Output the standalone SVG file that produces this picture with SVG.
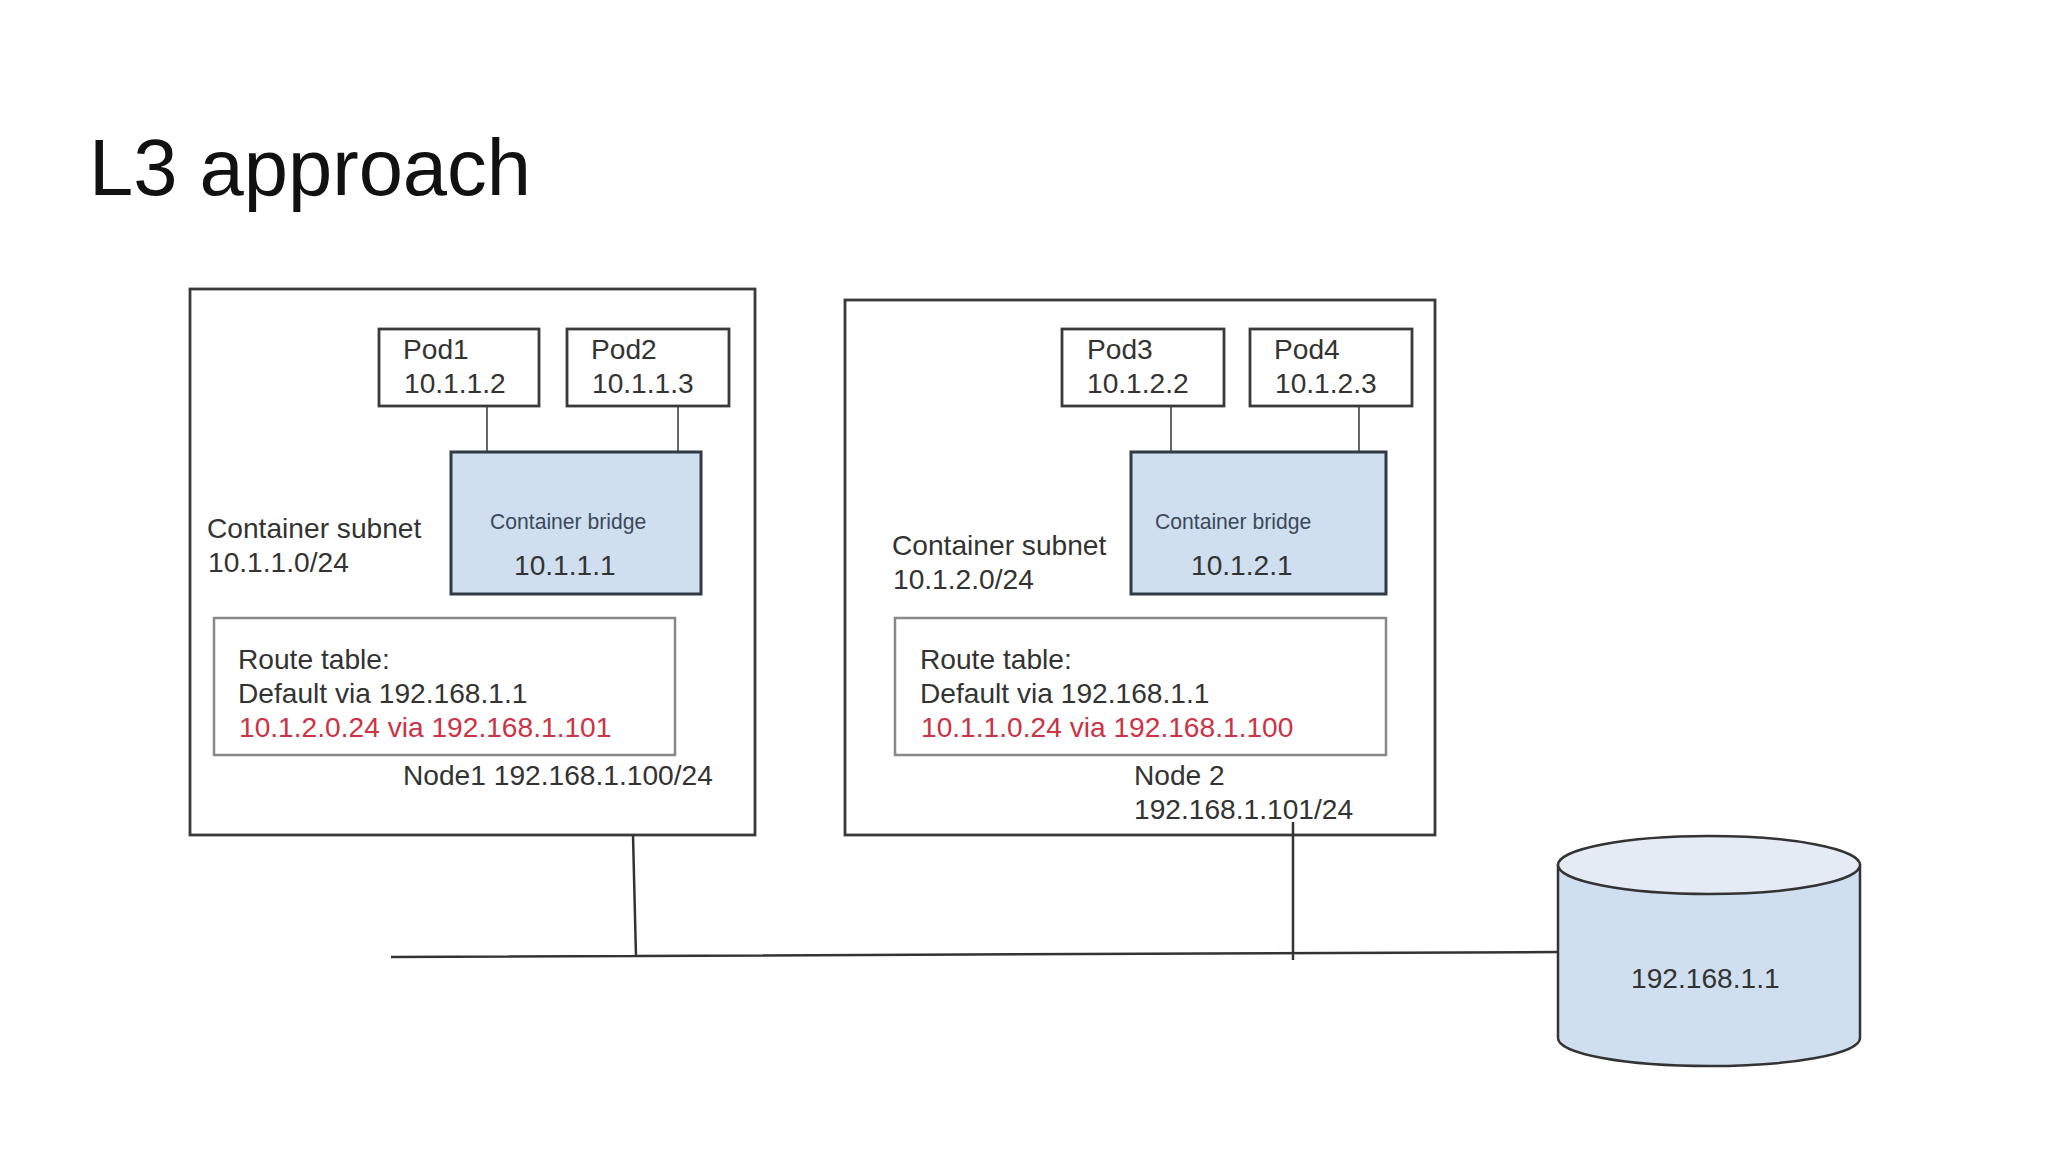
<svg xmlns="http://www.w3.org/2000/svg" width="2048" height="1152" viewBox="0 0 2048 1152">
<style>
text{font-family:"Liberation Sans",Arial,sans-serif;font-size:28.15px;fill:#333}
.title{font-size:79.5px;fill:#111}
.small{font-size:21.15px;fill:#3b4a5a}
.red{fill:#cc3344}
.box{fill:#fff;stroke:#3a3a3a;stroke-width:2.8}
.route{fill:#fff;stroke:#888;stroke-width:2.5}
.bridge{fill:#cfdfef;stroke:#2f3a44;stroke-width:3}
.thin{stroke:#666;stroke-width:2;fill:none}
.wire{stroke:#333;stroke-width:2.5;fill:none}
.cyl{fill:#cfdfef;stroke:#333;stroke-width:2.5}
.cyltop{fill:#e4ebf4;stroke:#333;stroke-width:2.5}
</style>
<rect width="2048" height="1152" fill="#fff"/>
<text id="title" class="title" x="89" y="195">L3 approach</text>
<g id="node1">
<rect class="box" x="190" y="289" width="565" height="546"/>
<text x="207" y="538">Container subnet</text>
<text x="208" y="572">10.1.1.0/24</text>
<text x="403" y="785">Node1 192.168.1.100/24</text>
</g>
<g id="node2">
<rect class="box" x="845" y="300" width="590" height="535"/>
<text x="892" y="555">Container subnet</text>
<text x="893" y="589">10.1.2.0/24</text>
<text x="1134" y="785">Node 2</text>
<text x="1134" y="819">192.168.1.101/24</text>
</g>
<g id="connectors">
<path class="thin" d="M487 406V452M678 406V452M1171 406V452M1359 406V452"/>
<path class="wire" d="M391 957L1558 952M633 835L636 957M1293 822V960"/>
</g>
<g id="pod1"><rect class="box" x="379" y="329" width="160" height="77"/><text x="403" y="359">Pod1</text><text x="404" y="393">10.1.1.2</text></g>
<g id="pod2"><rect class="box" x="567" y="329" width="162" height="77"/><text x="591" y="359">Pod2</text><text x="592" y="393">10.1.1.3</text></g>
<g id="pod3"><rect class="box" x="1062" y="329" width="162" height="77"/><text x="1087" y="359">Pod3</text><text x="1087" y="393">10.1.2.2</text></g>
<g id="pod4"><rect class="box" x="1250" y="329" width="162" height="77"/><text x="1274" y="359">Pod4</text><text x="1275" y="393">10.1.2.3</text></g>
<g id="bridge1"><rect class="bridge" x="451" y="452" width="250" height="142"/><text class="small" x="490" y="529">Container bridge</text><text x="514" y="575">10.1.1.1</text></g>
<g id="bridge2"><rect class="bridge" x="1131" y="452" width="255" height="142"/><text class="small" x="1155" y="529">Container bridge</text><text x="1191" y="575">10.1.2.1</text></g>
<g id="route1"><rect class="route" x="214" y="618" width="461" height="137"/><text x="238" y="669">Route table:</text><text x="238" y="703">Default via 192.168.1.1</text><text class="red" x="239" y="737">10.1.2.0.24 via 192.168.1.101</text></g>
<g id="route2"><rect class="route" x="895" y="618" width="491" height="137"/><text x="920" y="669">Route table:</text><text x="920" y="703">Default via 192.168.1.1</text><text class="red" x="921" y="737">10.1.1.0.24 via 192.168.1.100</text></g>
<g id="gateway">
<path class="cyl" d="M1558 865V1038C1558 1054 1626 1066 1709 1066S1860 1054 1860 1038V865Z"/>
<ellipse class="cyltop" cx="1709" cy="865" rx="151" ry="29"/>
<text x="1631" y="988">192.168.1.1</text>
</g>
</svg>
